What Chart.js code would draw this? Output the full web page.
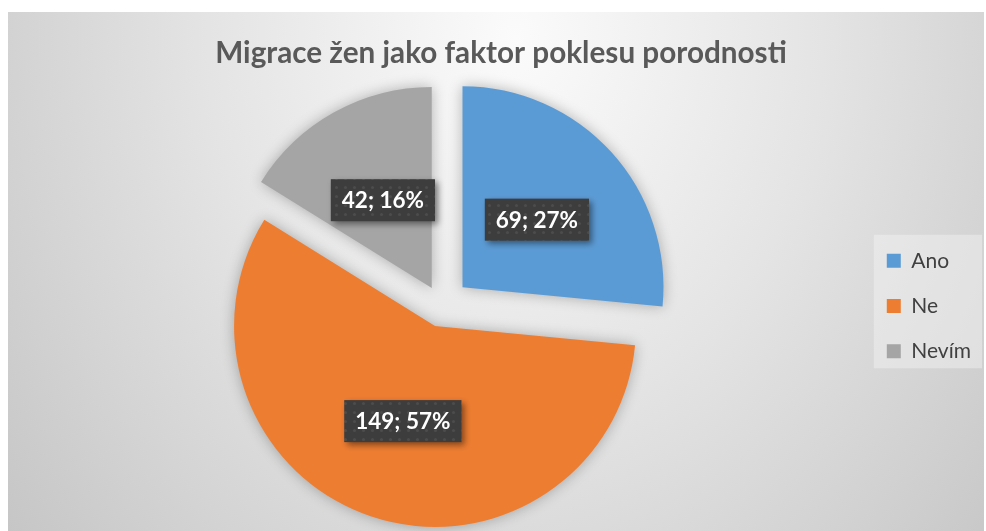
<!DOCTYPE html>
<html>
<head>
<meta charset="utf-8">
<title>Migrace žen jako faktor poklesu porodnosti</title>
<script src="https://cdn.jsdelivr.net/npm/chart.js@4.4.1/dist/chart.umd.min.js"></script>
<style>
  html, body { margin: 0; padding: 0; background: #fff; }
  #wrap {
    position: absolute; left: 8px; top: 12px; width: 976px; height: 519px;
    background: radial-gradient(ellipse 70% 160% at 52% 5%, #fbfbfb 0%, #e4e4e4 45%, #c3c3c3 100%);
  }
</style>
</head>
<body>
<div id="wrap"><canvas id="migrace"></canvas></div>
<script>
// data
var labels = ['Ano', 'Ne', 'Nevím'];
var counts = [69, 149, 42];
var colors = ['#5b9bd5', '#ed7d31', '#a5a5a5'];

var total = counts.reduce(function (a, b) { return a + b; }, 0);

// dotted dark fill for the data label boxes
var pc = document.createElement('canvas');
pc.width = 9; pc.height = 9;
var pctx = pc.getContext('2d');
pctx.fillStyle = '#3d3d3d';
pctx.fillRect(0, 0, 9, 9);
pctx.fillStyle = 'rgba(255,255,255,0.08)';
pctx.beginPath();
pctx.arc(4.5, 4.5, 1.6, 0, Math.PI * 2);
pctx.fill();

// pull slices out of the pie (pixels along each slice bisector)
var explodePlugin = {
    id: 'explode',
    afterDatasetsUpdate: function (chart, args, opts) {
        chart.getDatasetMeta(0).data.forEach(function (arc, i) {
            var mid = (arc.startAngle + arc.endAngle) / 2;
            var d = opts.distances[i] || 0;
            arc.x += Math.cos(mid) * d;
            arc.y += Math.sin(mid) * d;
        });
    },
    beforeDraw: function (chart) {
        // light box behind the legend
        var boxes = chart.legend.legendHitBoxes;
        if (!boxes || !boxes.length) return;
        var first = boxes[0], last = boxes[boxes.length - 1];
        var ctx = chart.ctx;
        ctx.save();
        ctx.fillStyle = 'rgba(245,245,245,0.45)';
        var x0 = first.left - 13;
        var y0 = first.top + first.height / 2 - 26;
        var y1 = last.top + last.height / 2 + 17;
        ctx.fillRect(x0, y0, chart.width - x0 - 2, y1 - y0);
        ctx.restore();
    },
    beforeDatasetsDraw: function (chart) {
        var ctx = chart.ctx;
        ctx.save();
        ctx.shadowColor = 'rgba(0,0,0,0.28)';
        ctx.shadowBlur = 14;
    },
    afterDatasetsDraw: function (chart) {
        var ctx = chart.ctx;
        ctx.restore();

        // data labels: "value; percent%"
        ctx.save();
        ctx.font = 'bold 22.5px Lato';
        ctx.textAlign = 'center';
        ctx.textBaseline = 'middle';
        chart.getDatasetMeta(0).data.forEach(function (arc, i) {
            var pos = arc.tooltipPosition();
            var txt = counts[i] + '; ' + Math.round(counts[i] / total * 100) + '%';
            var w = ctx.measureText(txt).width + 22;
            var h = 42;
            ctx.save();
            ctx.shadowColor = 'rgba(0,0,0,0.45)';
            ctx.shadowBlur = 6;
            ctx.shadowOffsetX = 3;
            ctx.shadowOffsetY = 3;
            ctx.fillStyle = ctx.createPattern(pc, 'repeat');
            ctx.fillRect(pos.x - w / 2, pos.y - h / 2, w, h);
            ctx.restore();
            ctx.fillStyle = '#ffffff';
            ctx.fillText(txt, pos.x, pos.y + 1);
        });
        ctx.restore();
    }
};

var ctx1 = document.getElementById('migrace').getContext('2d');
var migraceChart = new Chart(ctx1, {
    type: 'pie',
    data: {
        labels: labels,
        datasets: [{
            data: counts,
            backgroundColor: colors,
            borderWidth: 0,
            clip: false
        }]
    },
    options: {
        responsive: true,
        maintainAspectRatio: false,
        animation: false,
        events: [],
        layout: { padding: { left: 13, right: 3, top: 0, bottom: 24 } },
        plugins: {
            explode: { distances: [28, 21, 20.6] },
            tooltip: { enabled: false },
            title: {
                display: true,
                text: 'Migrace žen jako faktor poklesu porodnosti',
                color: '#595959',
                font: { family: 'Lato', size: 29.7, weight: 'bold', lineHeight: 1.2 },
                padding: { top: 24, bottom: 33.4 }
            },
            legend: {
                position: 'right',
                fullSize: false,
                labels: {
                    boxWidth: 14,
                    boxHeight: 14,
                    padding: 24.25,
                    color: '#404040',
                    font: { family: 'Lato', size: 21 }
                }
            }
        }
    },
    plugins: [explodePlugin]
});
</script>
</body>
</html>
